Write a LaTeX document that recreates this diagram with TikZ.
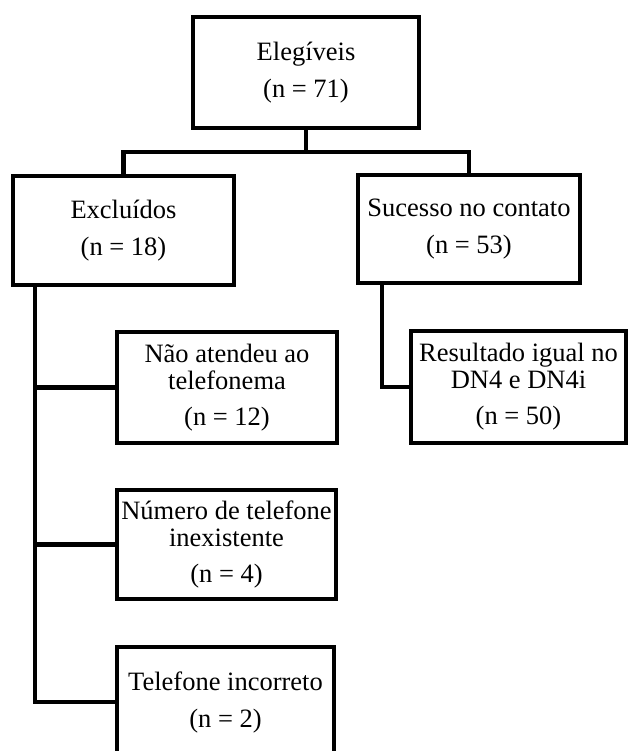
\documentclass[tikz,border=0pt]{standalone}
\usepackage{fontspec}
\setmainfont{Liberation Serif}
\begin{document}
\begin{tikzpicture}[x=1pt,y=-1pt,
  box/.style={draw=black,line width=4.5pt,rectangle,inner sep=0pt,align=center,
    font=\fontsize{26.5}{27}\selectfont,fill=white},
  conn/.style={draw=black,line width=4.5pt}]
\useasboundingbox (0,0) rectangle (629,751);
\clip (0,0) rectangle (629,751);
\node[box,minimum width=226pt,minimum height=111pt] (elig) at (306,72.5) {Elegíveis\\[10pt](n = 71)};
\node[box,minimum width=221pt,minimum height=109pt] (excl) at (123.5,230.5) {Excluídos\\[10pt](n = 18)};
\node[box,minimum width=222pt,minimum height=108pt] (suc) at (469,229) {Sucesso no contato\\[10pt](n = 53)};
\node[box,minimum width=220pt,minimum height=111pt] (nao) at (227,387.5) {Não atendeu ao\\telefonema\\[9pt](n = 12)};
\node[box,minimum width=215pt,minimum height=112pt] (res) at (518.5,387) {Resultado igual no\\DN4 e DN4i\\[9pt](n = 50)};
\node[box,minimum width=219pt,minimum height=109pt] (num) at (226.5,544.5) {Número de telefone\\inexistente\\[9pt](n = 4)};
\node[box,minimum width=217pt,minimum height=110pt] (tel) at (225.5,702) {Telefone incorreto\\[10pt](n = 2)};
\coordinate (jt) at (306,152);
\coordinate (lx) at (35,0);
\coordinate (rx) at (382,0);
\draw[conn] (elig.south) -- (jt);
\draw[conn] (excl.north) |- (jt) -| (suc.north);
\draw[conn] (lx |- excl.south) |- (tel.west);
\draw[conn] (lx |- nao.west) -- (nao.west);
\draw[conn] (lx |- num.west) -- (num.west);
\draw[conn] (rx |- suc.south) |- (res.west);
\end{tikzpicture}
\end{document}
